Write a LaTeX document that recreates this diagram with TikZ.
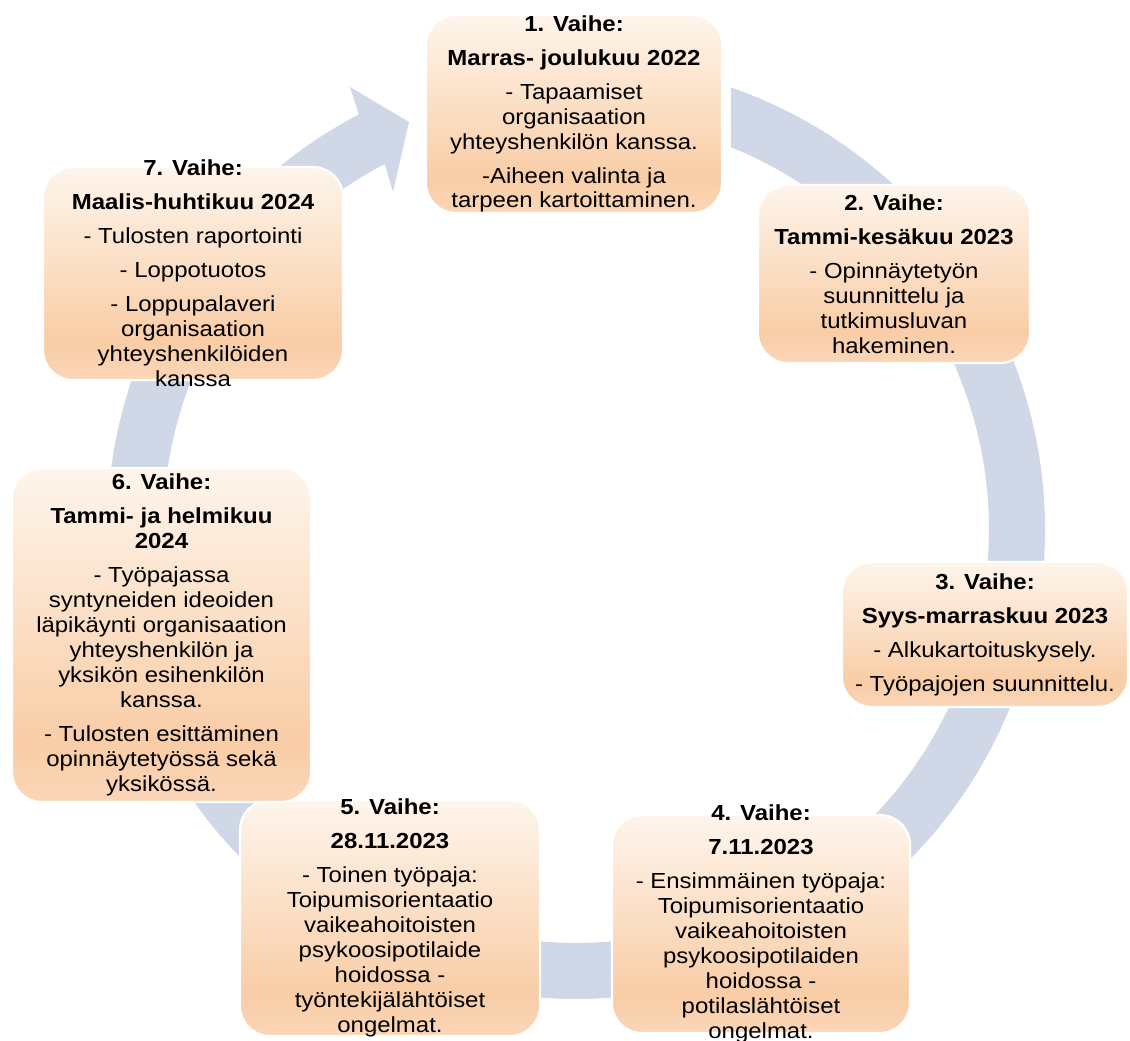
\documentclass[tikz,border=0pt]{standalone}
\usepackage{fontspec}
\setmainfont{Liberation Sans}[FakeStretch=1.1]
\usepackage{tikz}
\usetikzlibrary{calc}
\definecolor{rengasc}{HTML}{D0D8E7}
\definecolor{vtop}{HTML}{FEF5EC}
\definecolor{vmid}{HTML}{F9CDA6}
\definecolor{vbot}{HTML}{FAD6B8}
\pgfdeclareverticalshading{vaihegrad}{100bp}{color(0bp)=(vbot); color(25bp)=(vbot); color(34bp)=(vmid); color(75bp)=(vtop); color(100bp)=(vtop)}
\newcommand{\vfont}{\fontsize{12.4}{14.2}\selectfont}
\tikzset{
  rengas/.style={fill=rengasc},
  vaihe/.style={shade, shading=vaihegrad, draw=white, line width=1.2pt, rounded corners=0.6cm, inner sep=0pt},
  teksti/.style={align=center, font=\vfont, text=black, inner sep=0pt},
}

\begin{document}
\begin{tikzpicture}[x=0.02cm, y=0.02cm]
  \useasboundingbox (0,0) rectangle (1130,-1041);
  \fill[white] (0,0) rectangle (1130,-1041);
  \coordinate (rk) at (576,-530);
  % kehän nuoli
  \fill[rengas] (731,-87.4) arc[start angle=70.7, end angle=-242.4, radius=9.38cm]
    -- (350,-87) -- (409,-122) -- (393,-192)
    -- ($(rk)+(117.6:413)$) arc[start angle=117.6, end angle=427.96, radius=8.26cm] -- cycle;
  % vaiheiden laatikot
  \foreach \i/\x/\y/\w/\h in {1/574/114/296/198, 2/894/274/272/178, 3/985/634.5/286/145,
      4/761/924/298/218, 5/390/918/300/236, 6/161.5/635/299/334, 7/193/273.5/300/213}
    \node[vaihe, minimum width=\w*0.02cm, minimum height=\h*0.02cm] (v\i) at (\x,-\y) {};
  \node[teksti] (t1) at (v1) {{\bfseries 1. Vaihe:}\\[1.8mm]{\bfseries Marras- joulukuu 2022}\\[1.8mm]
    - Tapaamiset\\organisaation\\yhteyshenkilön kanssa.\\[1.8mm]-Aiheen valinta ja\\tarpeen kartoittaminen.};
  \node[teksti] (t2) at (v2) {{\bfseries 2. Vaihe:}\\[1.8mm]{\bfseries Tammi-kesäkuu 2023}\\[1.8mm]
    - Opinnäytetyön\\suunnittelu ja\\tutkimusluvan\\hakeminen.};
  \node[teksti] (t3) at (v3) {{\bfseries 3. Vaihe:}\\[1.8mm]{\bfseries Syys-marraskuu 2023}\\[1.8mm]
    - Alkukartoituskysely.\\[1.8mm]- Työpajojen suunnittelu.};
  \node[teksti] (t4) at (v4) {{\bfseries 4. Vaihe:}\\[1.8mm]{\bfseries 7.11.2023}\\[1.8mm]
    - Ensimmäinen työpaja:\\Toipumisorientaatio\\vaikeahoitoisten\\psykoosipotilaiden\\hoidossa -\\potilaslähtöiset\\ongelmat.};
  \node[teksti] (t5) at (v5) {{\bfseries 5. Vaihe:}\\[1.8mm]{\bfseries 28.11.2023}\\[1.8mm]
    - Toinen työpaja:\\Toipumisorientaatio\\vaikeahoitoisten\\psykoosipotilaide\\hoidossa -\\työntekijälähtöiset\\ongelmat.};
  \node[teksti] (t6) at (v6) {{\bfseries 6. Vaihe:}\\[1.8mm]{\bfseries Tammi- ja helmikuu}\\{\bfseries 2024}\\[1.8mm]
    - Työpajassa\\syntyneiden ideoiden\\läpikäynti organisaation\\yhteyshenkilön ja\\yksikön esihenkilön\\kanssa.\\[1.8mm]
    - Tulosten esittäminen\\opinnäytetyössä sekä\\yksikössä.};
  \node[teksti] (t7) at (v7) {{\bfseries 7. Vaihe:}\\[1.8mm]{\bfseries Maalis-huhtikuu 2024}\\[1.8mm]
    - Tulosten raportointi\\[1.8mm]- Loppotuotos\\[1.8mm]- Loppupalaveri\\organisaation\\yhteyshenkilöiden\\kanssa};
\end{tikzpicture}
\end{document}
